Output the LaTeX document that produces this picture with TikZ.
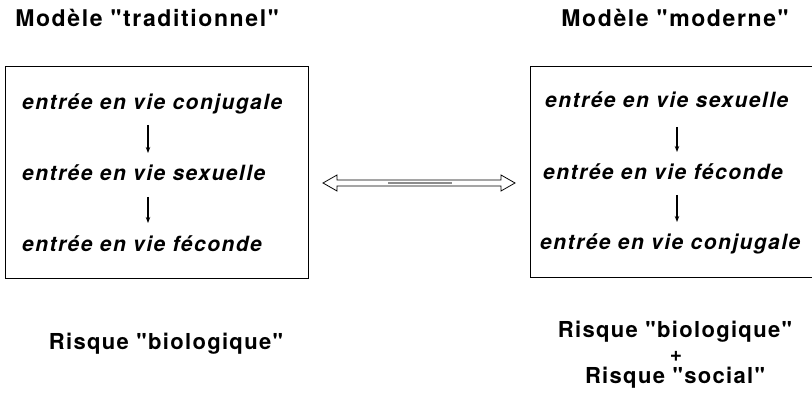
\documentclass[tikz,border=0pt]{standalone}
\usepackage{fontspec}
\setmainfont{TeX Gyre Heros}
\newfontfamily\titlefont[LetterSpace=7]{TeX Gyre Heros}
\newfontfamily\riskfont[LetterSpace=6]{TeX Gyre Heros}
\newfontfamily\boxfont[LetterSpace=7]{TeX Gyre Heros}
\usetikzlibrary{arrows.meta,calc}
\begin{document}
\begin{tikzpicture}[x=1pt,y=-1pt,
  titletext/.style={font=\titlefont\fontsize{23}{27}\selectfont\bfseries, inner sep=0pt, anchor=base},
  risktext/.style={font=\riskfont\fontsize{22}{26}\selectfont\bfseries, inner sep=0pt, anchor=base},
  linetext/.style={font=\boxfont\fontsize{21}{25}\selectfont\bfseries\itshape, inner sep=0pt, anchor=base west},
  frame/.style={draw, line width=1pt},
  flow/.style={line width=1.2pt, -{Stealth[length=6pt,width=4.5pt]}},
  twoway/.style={draw, line width=0.8pt, fill=white, line join=miter}]
\useasboundingbox (0,0) rectangle (812,395);

% titles
\node[titletext] (t1) at (147,27) {Modèle "traditionnel"};
\node[titletext] (t2) at (675,27) {Modèle "moderne"};

% left box
\node[frame, minimum width=303pt, minimum height=212pt, inner sep=0pt] (lb) at (156.5,173) {};
\node[linetext] (l1) at (22,110) {entrée en vie conjugale};
\node[linetext] (l2) at (22,181) {entrée en vie sexuelle};
\node[linetext] (l3) at (22,252) {entrée en vie féconde};
\coordinate (lax) at (148,0);
\draw[flow] ($(l1.base -| lax)+(0,15)$) -- ($(l2.base -| lax)+(0,-28)$);
\draw[flow] ($(l2.base -| lax)+(0,16)$) -- ($(l3.base -| lax)+(0,-29)$);

% right box (open at the page edge)
\coordinate (rb1) at (812,67);
\coordinate (rb2) at (530,67);
\coordinate (rb3) at (530,278);
\coordinate (rb4) at (812,278);
\draw[frame] (rb1) -- (rb2) -- (rb3) -- (rb4);
\node[linetext] (r1) at (545,108) {entrée en vie sexuelle};
\node[linetext] (r2) at (543,180) {entrée en vie féconde};
\node[linetext] (r3) at (540,250) {entrée en vie conjugale};
\coordinate (rax) at (677,0);
\draw[flow] ($(r1.base -| rax)+(0,19)$) -- ($(r2.base -| rax)+(0,-28)$);
\draw[flow] ($(r2.base -| rax)+(0,15)$) -- ($(r3.base -| rax)+(0,-28)$);

% double arrow
\coordinate (da) at (323,183);
\coordinate (db) at (515,183);
\draw[twoway] (da) -- ++(14,-8) -- ++(0,5) -- ($(db)+(-14,-3)$) -- ++(0,-5) -- (db)
  -- ++(-14,8) -- ++(0,-5) -- ($(da)+(14,3)$) -- ++(0,5) -- cycle;
\draw[line width=1.5pt, black!45] (388,183) -- (452,183);

% risks
\node[risktext] (k1) at (166,350) {Risque "biologique"};
\node[risktext] (k2) at (675,338) {Risque "biologique"};
\node[font=\bfseries\fontsize{21}{21}\selectfont, inner sep=0pt] (plus) at (676,356) {+};
\node[risktext] (k3) at (675,384) {Risque "social"};
\end{tikzpicture}
\end{document}
